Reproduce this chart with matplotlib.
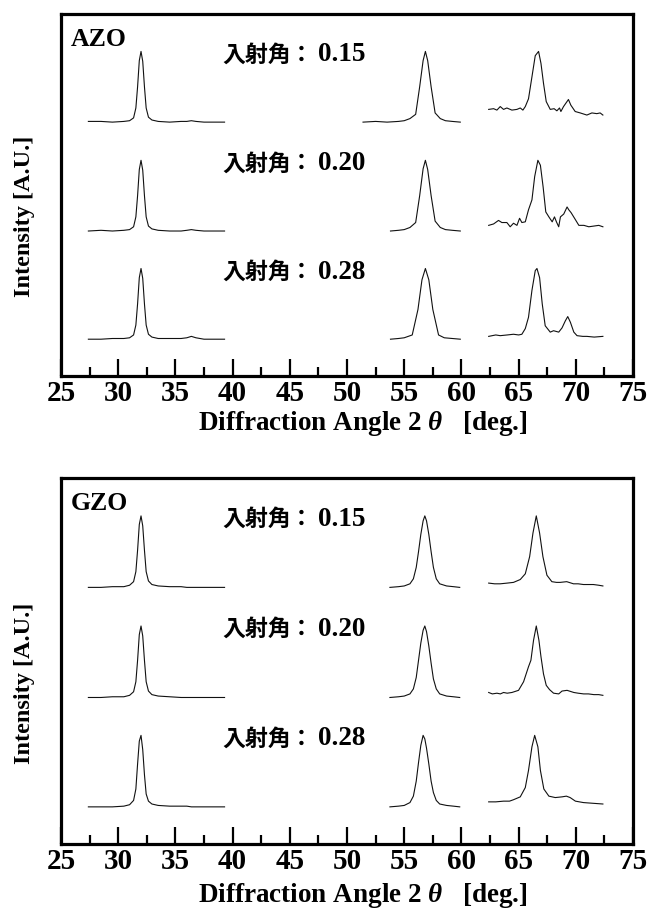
import matplotlib
matplotlib.use('Agg')
import matplotlib.pyplot as plt
from matplotlib.ticker import MultipleLocator

plt.rcParams['font.family'] = ['Liberation Serif', 'Noto Sans CJK JP']
plt.rcParams['font.weight'] = 'bold'
plt.rcParams['mathtext.fontset'] = 'custom'
plt.rcParams['mathtext.rm'] = 'Liberation Serif:bold'
plt.rcParams['mathtext.it'] = 'Liberation Serif:italic:bold'

# incident angles (one row of traces each)
angles = ['0.15', '0.20', '0.28']
samples = ['AZO', 'GZO']

# ---- data (normalised intensity, 1 = peak top) ----
# 2theta ~ 27-39 deg segment (shared sampling)
seg1_x = [27.4, 28.5, 29.5, 30.5, 31.0, 31.35, 31.55, 31.7, 31.85, 32.0, 32.15, 32.3, 32.45,
          32.65, 32.95, 33.5, 34.5, 35.5, 36.0, 36.4, 36.8, 37.5, 38.5, 39.3]
azo_015_s1 = [0.01, 0.01, 0.0, 0.01, 0.02, 0.06, 0.2, 0.5, 0.87, 1.0, 0.86, 0.5, 0.2,
              0.07, 0.03, 0.01, 0.0, 0.01, 0.01, 0.02, 0.01, 0.0, 0.0, 0.0]
azo_020_s1 = [0.0, 0.01, 0.0, 0.01, 0.02, 0.06, 0.2, 0.5, 0.87, 1.0, 0.86, 0.5, 0.2,
              0.07, 0.03, 0.01, 0.0, 0.0, 0.01, 0.02, 0.01, 0.0, 0.0, 0.0]
azo_028_s1 = [0.0, 0.0, 0.01, 0.01, 0.02, 0.06, 0.2, 0.5, 0.87, 1.0, 0.86, 0.5, 0.2,
              0.07, 0.03, 0.01, 0.01, 0.01, 0.02, 0.04, 0.02, 0.0, 0.0, 0.0]
gzo_015_s1 = [0.0, 0.0, 0.01, 0.01, 0.03, 0.08, 0.22, 0.52, 0.88, 1.0, 0.86, 0.52, 0.22,
              0.09, 0.04, 0.02, 0.01, 0.01, 0.0, 0.0, 0.0, 0.0, 0.0, 0.0]
gzo_020_s1 = [0.0, 0.0, 0.01, 0.01, 0.03, 0.08, 0.22, 0.52, 0.88, 1.0, 0.86, 0.52, 0.22,
              0.09, 0.04, 0.02, 0.01, 0.0, 0.0, 0.0, 0.0, 0.0, 0.0, 0.0]
gzo_028_s1 = [0.0, 0.0, 0.0, 0.01, 0.03, 0.09, 0.25, 0.6, 0.92, 1.0, 0.8, 0.45, 0.18,
              0.08, 0.04, 0.02, 0.01, 0.01, 0.01, 0.0, 0.0, 0.0, 0.0, 0.0]

# 2theta ~ 54-60 deg segment
azo_015_s2x = [51.4, 52.5, 53.5, 54.5, 55.0, 55.5, 56.0, 56.35, 56.65, 56.85, 57.05, 57.35,
               57.7, 58.15, 58.6, 59.2, 59.9]
azo_015_s2 = [0.0, 0.01, 0.0, 0.01, 0.02, 0.05, 0.11, 0.5, 0.87, 1.0, 0.87, 0.5,
              0.13, 0.05, 0.02, 0.01, 0.0]
azo_020_s2x = [53.8, 54.5, 55.0, 55.5, 56.0, 56.35, 56.65, 56.85, 57.05, 57.35, 57.7, 58.15,
               58.6, 59.2, 59.9]
azo_020_s2 = [0.0, 0.01, 0.02, 0.05, 0.12, 0.5, 0.88, 1.0, 0.87, 0.5, 0.14, 0.05,
              0.02, 0.01, 0.0]
azo_028_s2x = [53.8, 54.5, 55.0, 55.7, 56.2, 56.55, 56.85, 57.15, 57.5, 58.0, 58.5, 59.2, 59.9]
azo_028_s2 = [0.0, 0.01, 0.02, 0.06, 0.42, 0.84, 1.0, 0.84, 0.42, 0.06, 0.02, 0.01, 0.0]
gzo_s2x = [53.75, 54.5, 55.0, 55.5, 55.8, 56.05, 56.25, 56.45, 56.65, 56.8, 56.95, 57.15,
           57.35, 57.55, 57.8, 58.1, 58.7, 59.3, 59.85]
gzo_015_s2 = [0.0, 0.01, 0.02, 0.05, 0.12, 0.28, 0.5, 0.74, 0.93, 1.0, 0.93, 0.74,
              0.5, 0.28, 0.12, 0.05, 0.02, 0.01, 0.0]
gzo_020_s2 = [0.0, 0.01, 0.02, 0.05, 0.12, 0.28, 0.52, 0.76, 0.94, 1.0, 0.92, 0.72,
              0.48, 0.26, 0.12, 0.05, 0.02, 0.01, 0.0]
gzo_028_s2 = [0.0, 0.01, 0.02, 0.06, 0.15, 0.36, 0.62, 0.86, 1.0, 0.95, 0.82, 0.6,
              0.36, 0.2, 0.09, 0.04, 0.02, 0.01, 0.0]

# 2theta ~ 62-72.5 deg segment
azo_015_s3x = [62.38, 62.81, 63.1, 63.39, 63.68, 63.97, 64.41, 64.85, 65.14, 65.37, 65.58,
               65.86, 66.16, 66.45, 66.74, 66.95, 67.17, 67.41, 67.76, 68.1, 68.34, 68.57,
               68.69, 68.92, 69.35, 69.56, 69.94, 70.38, 70.96, 71.4, 71.83, 72.12, 72.36]
azo_015_s3 = [0.18, 0.19, 0.17, 0.22, 0.18, 0.2, 0.17, 0.18, 0.2, 0.17, 0.22,
              0.33, 0.64, 0.94, 1.0, 0.83, 0.55, 0.29, 0.18, 0.19, 0.16, 0.2,
              0.15, 0.22, 0.32, 0.24, 0.15, 0.13, 0.1, 0.13, 0.12, 0.13, 0.1]
azo_020_s3x = [62.38, 62.81, 63.24, 63.53, 63.97, 64.26, 64.55, 64.85, 65.08, 65.28, 65.58,
               65.86, 66.16, 66.4, 66.68, 66.9, 67.14, 67.37, 67.64, 67.93, 68.13, 68.3,
               68.5, 68.65, 68.94, 69.23, 69.38, 69.58, 69.96, 70.26, 70.7, 71.13, 71.57,
               72.0, 72.36]
azo_020_s3 = [0.08, 0.1, 0.15, 0.12, 0.12, 0.06, 0.11, 0.08, 0.18, 0.12, 0.13,
              0.3, 0.44, 0.77, 1.0, 0.93, 0.62, 0.27, 0.2, 0.13, 0.2, 0.13,
              0.06, 0.2, 0.24, 0.34, 0.3, 0.26, 0.16, 0.08, 0.08, 0.06, 0.07,
              0.08, 0.06]
azo_028_s3x = [62.38, 63.0, 63.39, 64.0, 64.55, 65.0, 65.28, 65.58, 65.86, 66.16, 66.45,
               66.6, 66.83, 67.06, 67.32, 67.76, 68.05, 68.5, 68.79, 69.08, 69.29, 69.52,
               69.82, 70.1, 70.6, 70.96, 71.6, 72.36]
azo_028_s3 = [0.04, 0.06, 0.05, 0.06, 0.07, 0.06, 0.07, 0.15, 0.31, 0.69, 0.97,
              1.0, 0.87, 0.5, 0.19, 0.1, 0.12, 0.1, 0.16, 0.26, 0.32, 0.24,
              0.1, 0.05, 0.04, 0.04, 0.03, 0.04]
gzo_015_s3x = [62.38, 62.9, 63.39, 64.0, 64.55, 65.14, 65.58, 65.96, 66.25, 66.54, 66.83,
               67.12, 67.47, 67.9, 68.3, 68.63, 69.2, 69.79, 70.2, 70.66, 71.1, 71.53, 72.0,
               72.36]
gzo_015_s3 = [0.06, 0.05, 0.05, 0.06, 0.07, 0.11, 0.19, 0.43, 0.76, 1.0, 0.76,
              0.43, 0.17, 0.08, 0.07, 0.07, 0.08, 0.05, 0.05, 0.04, 0.04, 0.04, 0.03,
              0.02]
gzo_020_s3x = [62.38, 62.7, 63.1, 63.4, 63.68, 64.0, 64.41, 64.99, 65.43, 65.86, 66.07,
               66.3, 66.54, 66.77, 66.95, 67.17, 67.41, 67.7, 68.05, 68.5, 68.79, 69.23,
               69.82, 70.2, 70.68, 71.1, 71.57, 72.0, 72.36]
gzo_020_s3 = [0.07, 0.05, 0.06, 0.05, 0.07, 0.06, 0.07, 0.1, 0.22, 0.43, 0.52,
              0.8, 1.0, 0.8, 0.57, 0.33, 0.17, 0.11, 0.06, 0.05, 0.09, 0.1,
              0.07, 0.06, 0.05, 0.05, 0.04, 0.04, 0.03]
gzo_028_s3x = [62.38, 63.0, 63.68, 64.2, 64.55, 65.14, 65.58, 65.86, 66.16, 66.4, 66.68,
               66.9, 67.2, 67.64, 68.2, 68.79, 69.17, 69.5, 69.96, 70.66, 71.5, 72.36]
gzo_028_s3 = [0.07, 0.07, 0.08, 0.08, 0.1, 0.14, 0.27, 0.51, 0.84, 1.0, 0.84,
              0.51, 0.25, 0.15, 0.13, 0.14, 0.15, 0.13, 0.08, 0.06, 0.05, 0.04]

traces = {
    'AZO': [
        [(seg1_x, azo_015_s1), (azo_015_s2x, azo_015_s2), (azo_015_s3x, azo_015_s3)],
        [(seg1_x, azo_020_s1), (azo_020_s2x, azo_020_s2), (azo_020_s3x, azo_020_s3)],
        [(seg1_x, azo_028_s1), (azo_028_s2x, azo_028_s2), (azo_028_s3x, azo_028_s3)],
    ],
    'GZO': [
        [(seg1_x, gzo_015_s1), (gzo_s2x, gzo_015_s2), (gzo_015_s3x, gzo_015_s3)],
        [(seg1_x, gzo_020_s1), (gzo_s2x, gzo_020_s2), (gzo_020_s3x, gzo_020_s3)],
        [(seg1_x, gzo_028_s1), (gzo_s2x, gzo_028_s2), (gzo_028_s3x, gzo_028_s3)],
    ],
}

# vertical offset of each row (top row first)
offsets = [3.59, 2.05, 0.52]

fig = plt.figure(figsize=(6.48, 9.11), dpi=100)
ax_top = fig.add_axes([0.094, 0.5873, 0.883, 0.3974])
ax_bot = fig.add_axes([0.094, 0.0735, 0.883, 0.4018])

for ax, name, lpad in zip([ax_top, ax_bot], samples, [1, 4]):
    for row, off in enumerate(offsets):
        for xs, ys in traces[name][row]:
            ax.plot(xs, [v + off for v in ys], color='#111111', lw=0.8)
        ax.text(39.1, off + 0.95, '入射角', fontsize=16.5, fontweight='bold',
                ha='left', va='center', family='Noto Sans CJK JP')
        ax.text(46.0, off + 0.95, '：', fontsize=16.5, fontweight='bold',
                ha='center', va='center', family='Noto Sans CJK JP')
        ax.text(47.5, off + 0.95, angles[row], fontsize=19.5, fontweight='bold',
                ha='left', va='center', family='Liberation Serif')
    ax.text(0.018, 0.93, name, transform=ax.transAxes, fontsize=18.5,
            fontweight='bold', ha='left', va='center')

    ax.set_xlim(25, 75)
    ax.set_ylim(0, 5.12)
    ax.xaxis.set_major_locator(MultipleLocator(5))
    ax.xaxis.set_minor_locator(MultipleLocator(2.5))
    ax.tick_params(axis='x', which='major', direction='in', length=12, width=1.6,
                   labelsize=21, pad=3, top=False)
    ax.tick_params(axis='x', which='minor', direction='in', length=6.5, width=1.6, top=False)
    ax.set_yticks([])
    for s in ax.spines.values():
        s.set_linewidth(2.3)
    ax.set_xlabel('Diffraction Angle 2 $\\mathit{\\theta}$   [deg.]', fontsize=19.5,
                  fontweight='bold', labelpad=lpad)
    ax.xaxis.label.set_x(0.528)
    ax.set_ylabel('Intensity [A.U.]', fontsize=17.5, fontweight='bold')
    ax.yaxis.set_label_coords(-0.045, 0.44)

fig.savefig('out.png', dpi=100)
